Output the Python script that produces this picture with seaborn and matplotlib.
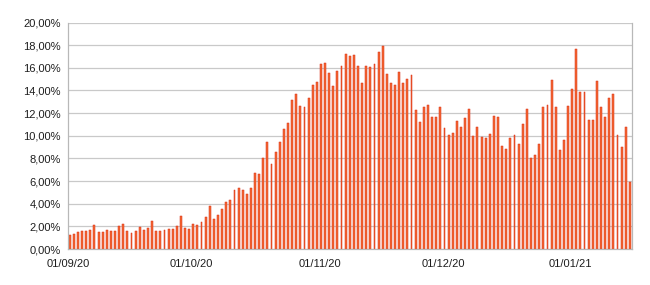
import numpy as np
import pandas as pd
import matplotlib
matplotlib.use("Agg")
import matplotlib.pyplot as plt
import seaborn as sns

# Daily values (%) from 01/09/2020
values = [
    1.24, 1.35, 1.53, 1.56, 1.58, 1.70, 2.15, 1.50, 1.50, 1.70,
    1.62, 1.62, 2.03, 2.24, 1.56, 1.44, 1.59, 1.94, 1.68, 1.88,
    2.44, 1.62, 1.62, 1.65, 1.80, 1.80, 2.00, 2.94, 1.85, 1.76,
    2.18, 2.12, 2.38, 2.79, 3.76, 2.70, 3.03, 3.50, 4.15, 4.32,
    5.20, 5.41, 5.26, 4.82, 5.41, 6.68, 6.62, 8.03, 9.47, 7.50,
    8.56, 9.47, 10.56, 11.09, 13.20, 13.65, 12.65, 12.56, 13.35, 14.47,
    14.74, 16.32, 16.44, 15.50, 14.44, 15.70, 16.15, 17.18, 17.06, 17.12,
    16.15, 14.65, 16.20, 16.06, 16.38, 17.38, 17.97, 15.44, 14.62, 14.47,
    15.65, 14.68, 15.03, 15.38, 12.32, 11.22, 12.50, 12.74, 11.68, 11.68,
    12.56, 10.65, 10.03, 10.26, 11.32, 10.79, 11.56, 12.35, 9.97, 10.79,
    9.91, 9.79, 10.12, 11.74, 11.62, 9.12, 8.82, 9.85, 10.03, 9.26,
    11.00, 12.38, 8.00, 8.29, 9.32, 12.50, 12.76, 14.91, 12.50, 8.74,
    9.59, 12.62, 14.12, 17.62, 13.85, 13.85, 11.38, 11.38, 14.88, 12.50,
    11.62, 13.35, 13.65, 10.06, 9.03, 10.76, 5.94,
]
start_date = "2020-09-01"
tick_dates = ["01/09/20", "01/10/20", "01/11/20", "01/12/20", "01/01/21"]
y_ticks = [0, 2, 4, 6, 8, 10, 12, 14, 16, 18, 20]

dates = pd.date_range(start_date, periods=len(values), freq="D")
df = pd.DataFrame({"date": dates.strftime("%d/%m/%y"), "value": values})

sns.set_style("white")
plt.rcParams["font.family"] = ["Liberation Sans", "DejaVu Sans"]

fig = plt.figure(figsize=(6.5, 2.85), dpi=100)
ax = fig.add_axes([0.105, 0.126, 0.868, 0.795])

sns.barplot(data=df, x="date", y="value", ax=ax, color="#f46a35",
            saturation=1, width=0.46, edgecolor="#d92c14", linewidth=0.35,
            errorbar=None)

offset = 0.36
ax.set_xlim(-offset, len(values) - offset)
ax.set_ylim(0, 20)
labels_list = list(df["date"])
ax.set_xticks([labels_list.index(d) - offset for d in tick_dates])
ax.set_xticklabels(tick_dates)
ax.set_yticks(y_ticks)
ax.set_yticklabels([f"{v:.2f}".replace(".", ",") + "%" for v in y_ticks])

ax.grid(axis="y", color="#c9c9c9", linewidth=0.9)
ax.set_axisbelow(True)
for side in ["left", "bottom", "right"]:
    ax.spines[side].set_visible(True)
    ax.spines[side].set_color("#b8b8b8")
    ax.spines[side].set_linewidth(0.9)
ax.spines["top"].set_visible(False)
ax.tick_params(axis="both", which="major", length=3.5, width=0.9,
               color="#b8b8b8", labelsize=8, labelcolor="#1e1e1e", pad=2)
ax.tick_params(axis="x", length=4, pad=3)
ax.set_xlabel("")
ax.set_ylabel("")

fig.savefig("out.png", dpi=100, facecolor="white")
